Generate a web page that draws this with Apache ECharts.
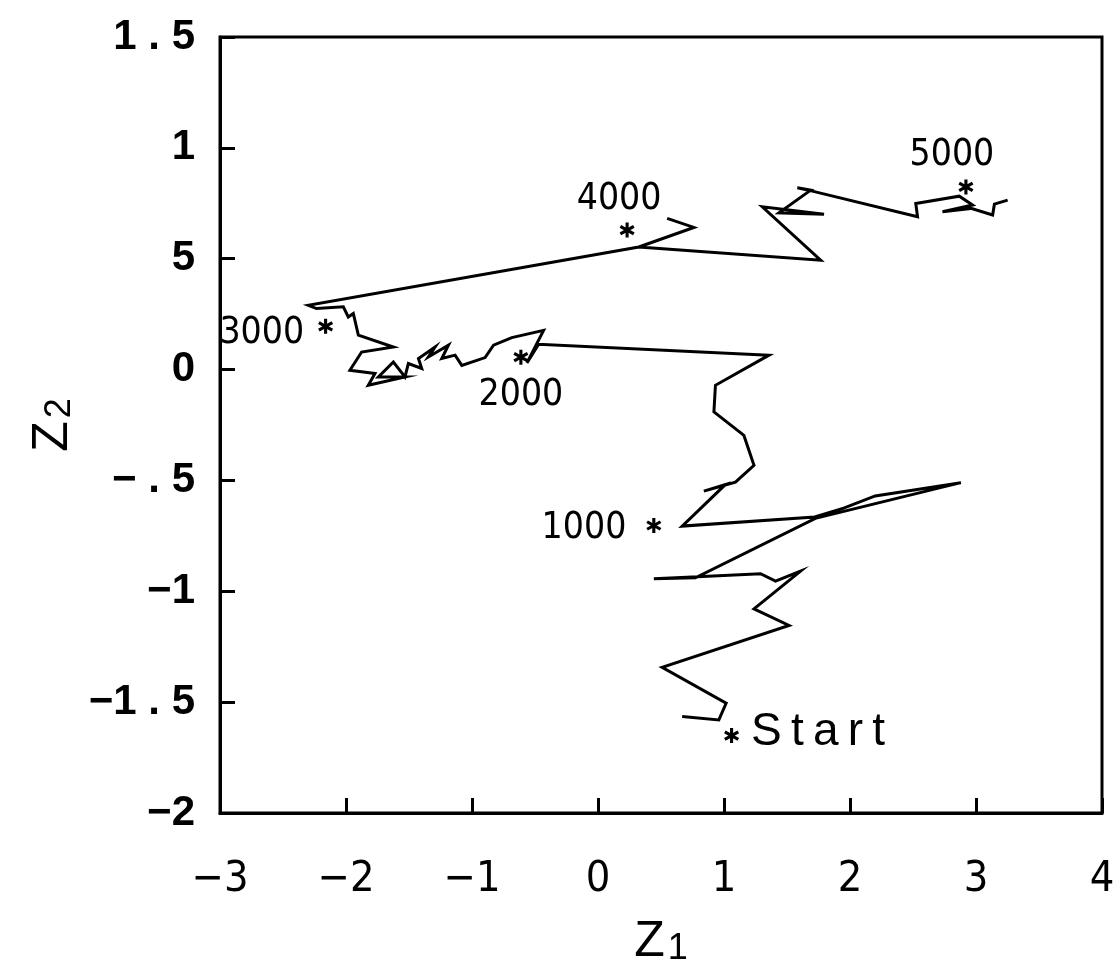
<!DOCTYPE html>
<html>
<head>
<meta charset="utf-8">
<title>Z1–Z2 trajectory</title>
<script src="https://cdn.jsdelivr.net/npm/echarts@6/dist/echarts.min.js"></script>
<style>
html, body { margin: 0; padding: 0; background: #fff; }
#chart { width: 1120px; height: 968px; }
</style>
</head>
<body>
<div id="chart"></div>
<script>
// Trajectory of the chain in the (Z1, Z2) plane, in iteration order
const z1 = [0.668, 0.959, 1.017, 0.509, 1.516, 1.238, 1.608, 1.409, 1.290, 0.747,
            0.443, 0.773, 1.725, 2.880, 2.200, 1.950, 1.720, 0.668, 1.012, 0.840,
            1.091, 1.238, 1.158, 0.920, 0.932, 1.357, -0.471, -0.564, -0.432, -0.684,
            -0.829, -0.896, -1.081, -1.134, -1.240, -1.187, -1.346, -1.293, -1.425, -1.399,
            -1.505, -1.532, -1.624, -1.743, -1.532, -1.823, -1.770, -1.969, -1.876, -1.624,
            -1.902, -1.942, -1.982, -2.021, -2.234, -2.300, 0.324, 0.761, 0.549, 0.761,
            0.324, 1.767, 1.304, 1.794, 1.436, 1.688, 1.582, 1.701, 2.536, 2.522,
            2.867, 2.973, 2.734, 2.960, 3.132, 3.146, 3.251];
const z2 = [-1.565, -1.580, -1.505, -1.343, -1.154, -1.079, -0.909, -0.954, -0.921, -0.936,
            -0.944, -0.939, -0.671, -0.510, -0.570, -0.625, -0.665, -0.706, -0.518, -0.548,
            -0.508, -0.432, -0.297, -0.191, -0.071, 0.065, 0.114, 0.030, 0.177, 0.144,
            0.110, 0.054, 0.019, 0.065, 0.050, 0.110, 0.057, 0.102, 0.050, 0.005,
            0.027, -0.033, 0.034, -0.033, -0.033, -0.071, -0.018, -0.003, 0.079, 0.102,
            0.155, 0.253, 0.237, 0.283, 0.275, 0.290, 0.553, 0.641, 0.682, 0.641,
            0.553, 0.493, 0.734, 0.701, 0.707, 0.809, 0.820, 0.805, 0.689, 0.749,
            0.782, 0.742, 0.712, 0.727, 0.697, 0.746, 0.764];

// Checkpoints marked with an asterisk
const markNames = ['Start', '1000', '2000', '3000', '4000', '5000'];
const markZ1 = [1.060, 0.443, -0.612, -2.162, 0.231, 2.920];
const markZ2 = [-1.651, -0.703, 0.056, 0.195, 0.629, 0.824];

// Tick values and the labels printed at them
const xTicks = [-3, -2, -1, 0, 1, 2, 3, 4];
const xTickText = ['\u22123', '\u22122', '\u22121', '0', '1', '2', '3', '4'];
const yTicks = [1.5, 1, 0.5, 0, -0.5, -1, -1.5, -2];
const yTickText = ['1 . 5', '1', '5', '0', '\u2212 . 5', '\u22121', '\u22121 . 5', '\u22122'];

const pick = (vals, texts, v) => {
  const i = vals.findIndex(t => Math.abs(t - v) < 1e-9);
  return i < 0 ? '' : texts[i];
};

const wide = "'Liberation Sans', Arial, Helvetica, sans-serif";
const narrow = "'Liberation Sans Narrow', 'DejaVu Sans Condensed', 'Liberation Sans', sans-serif";

// six-armed asterisk used as the checkpoint symbol
const asterisk = 'path://M40 0L60 0L60 100L40 100Z' +
                 'M1.7 33.7L11.7 16.3L98.3 66.3L88.3 83.7Z' +
                 'M11.7 83.7L1.7 66.3L88.3 16.3L98.3 33.7Z';

// where each checkpoint label sits relative to its asterisk
const labelPlacement = {
  'Start': { position: 'right', distance: 12, offset: [0, -3], fontFamily: wide, fontSize: 46 },
  '1000':  { position: 'left', distance: 20, offset: [0, 3] },
  '2000':  { position: 'bottom', distance: 12, offset: [0, 0] },
  '3000':  { position: 'left', distance: 14, offset: [0, 7] },
  '4000':  { position: 'top', distance: 5, offset: [-8, 0] },
  '5000':  { position: 'top', distance: 5, offset: [-14, 0] }
};

const nameRich = {
  z: { fontSize: 50, lineHeight: 50, fontFamily: wide, color: '#000' },
  s: { fontSize: 36, lineHeight: 36, fontFamily: wide, color: '#000',
       verticalAlign: 'bottom', padding: [20, 0, 0, 3] }
};

const chart = echarts.init(document.getElementById('chart'), null, { renderer: 'canvas' });

chart.setOption({
  backgroundColor: '#fff',
  animation: false,
  grid: {
    left: 220, top: 37, width: 882, height: 776,
    outerBoundsMode: 'none', containLabel: false,
    show: true, borderColor: '#000', borderWidth: 3, backgroundColor: 'transparent'
  },
  xAxis: {
    type: 'value', min: -3, max: 4, interval: 1,
    axisLine: { show: true, onZero: false, lineStyle: { color: '#000', width: 3 } },
    axisTick: { show: true, inside: true, length: 15, lineStyle: { color: '#000', width: 3 } },
    splitLine: { show: false },
    axisLabel: {
      margin: 45, fontSize: 43, fontFamily: narrow, color: '#000',
      formatter: v => pick(xTicks, xTickText, v)
    },
    name: '{z|Z}{s|1}', nameLocation: 'middle', nameGap: 104,
    nameTextStyle: { rich: nameRich }
  },
  yAxis: {
    type: 'value', min: -2, max: 1.5, interval: 0.5,
    axisLine: { show: true, onZero: false, lineStyle: { color: '#000', width: 3 } },
    axisTick: { show: true, inside: true, length: 15, lineStyle: { color: '#000', width: 3 } },
    splitLine: { show: false },
    axisLabel: {
      margin: 25, fontSize: 42, fontWeight: 'bold', fontFamily: wide, color: '#000',
      formatter: v => pick(yTicks, yTickText, v)
    },
    name: '{z|Z}{s|2}', nameLocation: 'middle', nameGap: 138, nameRotate: 90,
    nameTextStyle: { rich: nameRich }
  },
  series: [
    {
      type: 'line',
      data: z1.map((x, i) => [x, z2[i]]),
      symbol: 'none',
      smooth: false,
      silent: true,
      lineStyle: { color: '#000', width: 3, join: 'miter' },
      z: 2
    },
    {
      type: 'scatter',
      data: markNames.map((n, i) => ({
        name: n,
        value: [markZ1[i], markZ2[i]],
        label: labelPlacement[n]
      })),
      symbol: asterisk,
      symbolSize: 15,
      itemStyle: { color: '#000', opacity: 1 },
      silent: true,
      label: {
        show: true, color: '#000', opacity: 1, fontFamily: narrow, fontSize: 37,
        formatter: p => p.name === 'Start' ? 'S\u2009t\u2009a\u2009r\u2009t' : p.name
      },
      z: 3
    }
  ]
});
</script>
</body>
</html>
